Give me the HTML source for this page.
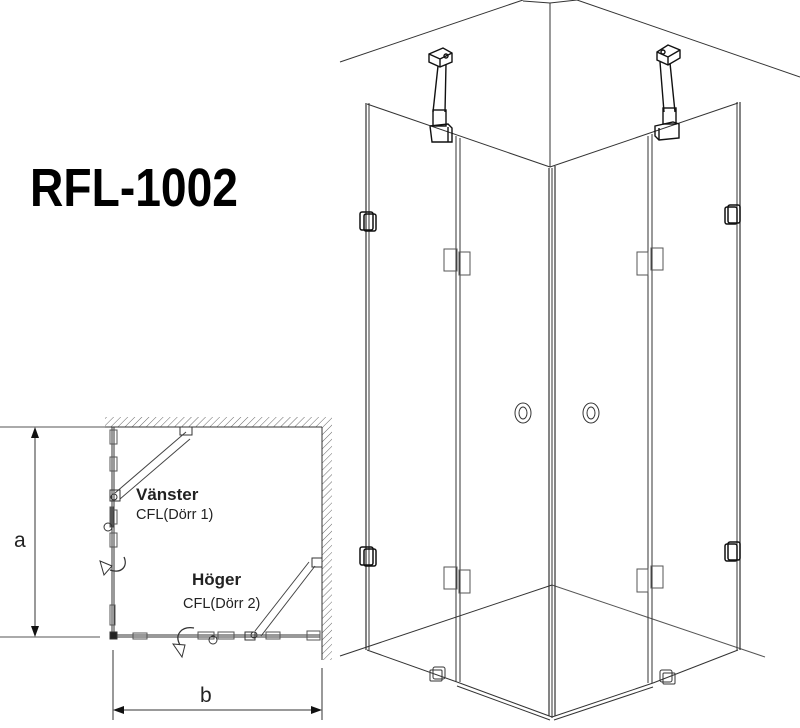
<!DOCTYPE html>
<html><head><meta charset="utf-8"><style>
html,body{margin:0;padding:0;background:#fff;}
svg{display:block;}
</style></head><body>
<svg width="800" height="728" viewBox="0 0 800 728" xmlns="http://www.w3.org/2000/svg" font-family="Liberation Sans, sans-serif">
<defs>
<pattern id="h" width="5" height="5" patternUnits="userSpaceOnUse" patternTransform="rotate(45)">
<line x1="0" y1="0" x2="0" y2="5" stroke="#666" stroke-width="1"/>
</pattern>
</defs>
<text x="30" y="206" font-size="54" font-weight="bold" textLength="208" lengthAdjust="spacingAndGlyphs">RFL-1002</text>

<g fill="none" stroke="#333" stroke-width="1">
<polyline points="340,62 523,0"/>
<polyline points="523,1 550,3 577,0"/>
<polyline points="577,0 800,77"/>
<line x1="550" y1="3" x2="550" y2="167"/>
<line x1="367" y1="104" x2="550" y2="167"/>
<line x1="550" y1="167" x2="738" y2="103"/>
<line x1="340" y1="656" x2="552" y2="585"/>
<line x1="552" y1="585" x2="765" y2="657" stroke="#555"/>
<line x1="366" y1="103" x2="366" y2="650" stroke-width="1.2"/>
<line x1="369" y1="103" x2="369" y2="650" stroke-width="1"/>
<line x1="737" y1="102" x2="737" y2="650" stroke-width="1"/>
<line x1="740" y1="102" x2="740" y2="650" stroke-width="1.2"/>
<line x1="456" y1="136" x2="456" y2="682"/>
<line x1="460" y1="138" x2="460" y2="682"/>
<line x1="648" y1="136" x2="648" y2="683"/>
<line x1="652" y1="134" x2="652" y2="683"/>
<line x1="549" y1="168" x2="549" y2="716" stroke-width="1.2"/>
<line x1="552" y1="168" x2="552" y2="718"/>
<line x1="555" y1="166" x2="555" y2="716" stroke-width="1.2"/>
<line x1="367" y1="650" x2="457" y2="682"/>
<line x1="457" y1="682" x2="552" y2="717"/>
<line x1="457" y1="686" x2="550" y2="720"/>
<line x1="552" y1="717" x2="653" y2="683"/>
<line x1="554" y1="720" x2="653" y2="687"/>
<line x1="653" y1="683" x2="738" y2="650"/>
<ellipse cx="523" cy="413" rx="8" ry="10"/>
<ellipse cx="523" cy="413" rx="4" ry="6"/>
<ellipse cx="591" cy="413" rx="8" ry="10"/>
<ellipse cx="591" cy="413" rx="4" ry="6"/>
<g stroke="#555">
<rect x="444" y="249" width="13" height="22"/><rect x="459" y="252" width="11" height="23"/>
<rect x="444" y="567" width="13" height="22"/><rect x="459" y="570" width="11" height="23"/>
<rect x="637" y="252" width="11" height="23"/><rect x="651" y="248" width="12" height="22"/>
<rect x="637" y="569" width="11" height="23"/><rect x="651" y="566" width="12" height="22"/>
</g>
<g stroke="#111" stroke-width="1.5">
<rect x="360" y="212" width="13" height="18" rx="2"/><rect x="364" y="214" width="12" height="17" rx="2"/>
<rect x="360" y="547" width="13" height="18" rx="2"/><rect x="364" y="549" width="12" height="17" rx="2"/>
<rect x="725" y="207" width="12" height="17" rx="2"/><rect x="728" y="205" width="12" height="18" rx="2"/>
<rect x="725" y="544" width="12" height="17" rx="2"/><rect x="728" y="542" width="12" height="18" rx="2"/>
</g>
<rect x="433" y="667" width="12" height="12" rx="2"/><rect x="430" y="670" width="12" height="11" rx="1"/>
<rect x="660" y="670" width="12" height="12" rx="2"/><rect x="663" y="673" width="12" height="11" rx="1"/>
<g stroke="#111" stroke-width="1.4">
<path d="M429,54 L443,48 L452,53 L452,62 L440,67 L429,62 Z"/><path d="M429,54 L440,59 L452,53 M440,59 L440,67"/>
<circle cx="446" cy="56" r="2"/>
<path d="M438,66 L433,112 M446,64 L445,112"/>
<rect x="433" y="110" width="13" height="16"/>
<path d="M430,126 L448,124 L452,128 L452,142 L432,142 L430,126"/>
<line x1="448" y1="127" x2="448" y2="142"/>
<path d="M657,52 L668,45 L680,50 L680,58 L668,65 L657,60 Z"/><path d="M657,52 L668,57 L680,50 M668,57 L668,65"/>
<circle cx="663" cy="52" r="2"/>
<path d="M660,62 L664,112 M670,63 L675,112"/>
<rect x="663" y="108" width="13" height="16"/>
<path d="M655,126 L673,122 L679,124 L679,138 L659,140 L655,136 Z"/>
<line x1="659" y1="128" x2="659" y2="140"/>
</g>
</g>

<rect x="105" y="417" width="227" height="10" fill="url(#h)"/>
<rect x="322" y="427" width="10" height="233" fill="url(#h)"/>
<g fill="none" stroke="#333" stroke-width="1">
<line x1="105" y1="427" x2="322" y2="427"/>
<line x1="322" y1="427" x2="322" y2="660"/>
<line x1="0" y1="427" x2="105" y2="427" stroke="#555"/>
<line x1="0" y1="637" x2="100" y2="637" stroke="#555"/>
<line x1="35" y1="432" x2="35" y2="632"/>
<line x1="113" y1="650" x2="113" y2="720"/>
<line x1="322" y1="668" x2="322" y2="720"/>
<line x1="118" y1="710" x2="317" y2="710"/>
<line x1="112" y1="427" x2="112" y2="636"/>
<line x1="114" y1="427" x2="114" y2="636"/>
<line x1="113" y1="635" x2="320" y2="635"/>
<line x1="113" y1="637" x2="320" y2="637"/>
<g stroke="#555">
<rect x="110" y="430" width="7" height="14"/>
<rect x="110" y="457" width="7" height="14"/>
<rect x="110" y="510" width="7" height="14"/>
<rect x="110" y="533" width="7" height="14"/>
<rect x="110" y="605" width="5" height="20"/>
<rect x="133" y="633" width="14" height="6"/>
<rect x="198" y="632" width="16" height="7"/><rect x="218" y="632" width="16" height="7"/>
<rect x="266" y="632" width="14" height="7"/>
<rect x="307" y="631" width="13" height="9"/>
<rect x="110" y="507" width="3" height="20" fill="#555"/>
</g>
<circle cx="108" cy="527" r="4"/>
<circle cx="213" cy="640" r="4"/>
<path d="M115,493 L186,432 M120,499 L190,439" stroke="#444"/>
<rect x="180" y="427" width="12" height="8"/>
<rect x="110" y="490" width="10" height="11"/><circle cx="114" cy="497" r="3"/>
<path d="M255,631 L309,562 M261,636 L315,566" stroke="#444"/>
<rect x="312" y="558" width="10" height="9"/>
<rect x="245" y="632" width="10" height="8"/><circle cx="254" cy="635" r="3"/>
<path d="M110,632 L117,632 L117,639 L110,639 Z" fill="#222"/>
<path d="M124,557 C128,566 122,574 110,570" stroke-width="1.3"/>
<path d="M100,561 L112,566 L104,575 Z"/>
<path d="M194,628 C182,626 174,634 180,645" stroke-width="1.3"/>
<path d="M173,644 L185,645 L182,657 Z"/>
</g>
<polygon points="35,427 31,438 39,438" fill="#111"/>
<polygon points="35,637 31,626 39,626" fill="#111"/>
<polygon points="113,710 124,706 124,714" fill="#111"/>
<polygon points="322,710 311,706 311,714" fill="#111"/>
<text x="14" y="547" font-size="21" fill="#222">a</text>
<text x="200" y="702" font-size="21" fill="#222">b</text>
<text x="136" y="500" font-size="17" font-weight="bold" fill="#222">Vänster</text>
<text x="136" y="519" font-size="14.5" fill="#222">CFL(Dörr 1)</text>
<text x="192" y="585" font-size="17" font-weight="bold" fill="#222">Höger</text>
<text x="183" y="608" font-size="14.5" fill="#222">CFL(Dörr 2)</text>
</svg>
</body></html>
